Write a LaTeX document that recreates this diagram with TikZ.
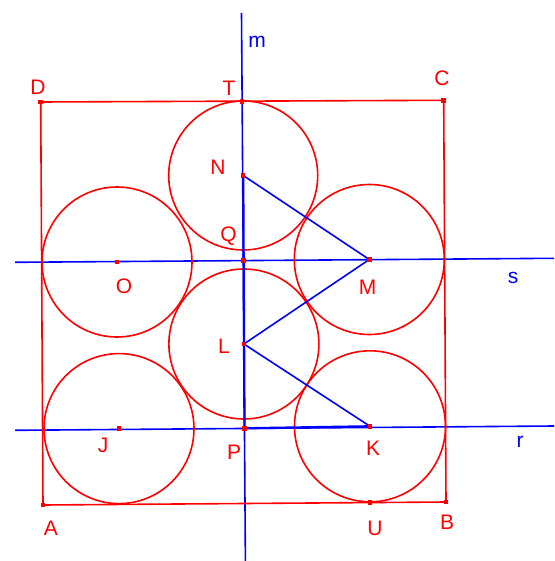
\documentclass[tikz,border=0pt]{standalone}
\usepackage{fontspec}
\setmainfont{Liberation Sans}
\usepackage{tikz}
\usepackage{xcolor}

\begin{document}
\begin{tikzpicture}[x=1pt,y=-1pt,line width=1.6pt,
  lbl/.style={font=\fontsize{21}{24}\selectfont,inner sep=0pt},
  pt/.style={fill=red,inner sep=0pt,minimum size=4.5pt}]
  \useasboundingbox (0,0) rectangle (554,561);
  \coordinate (A) at (43,505); \coordinate (B) at (446,502); \coordinate (C) at (443.7,100.3); \coordinate (D) at (40.7,102);
  \coordinate (T) at (241.8,101.3); \coordinate (U) at (370,502.5);
  \coordinate (N) at (243.2,175.5); \coordinate (Q) at (243.6,260.6); \coordinate (L) at (243.9,344); \coordinate (P) at (244.5,428.3);
  \coordinate (O) at (117,262); \coordinate (M) at (369.3,259.5); \coordinate (J) at (119,428.6); \coordinate (K) at (370,426.3);
  \coordinate (m1) at (241.5,13); \coordinate (m2) at (245.4,561);
  \coordinate (s1) at (15,262.3); \coordinate (s2) at (554,258.3);
  \coordinate (r1) at (15,430.3); \coordinate (r2) at (554,426);
  % lines m, s, r
  \draw[blue] (m1) -- (m2); \draw[blue] (s1) -- (s2); \draw[blue] (r1) -- (r2);
  % square and circles
  \draw[red] (A) -- (B) -- (C) -- (D) -- cycle;
  \draw[red] (N) circle (74.5); \draw[red] (O) circle (75); \draw[red] (M) circle (75);
  \draw[red] (L) circle (75); \draw[red] (J) circle (75); \draw[red] (K) circle (75.5);
  % segments
  \draw[blue] (N) -- (M) -- (L) -- (K); \draw[blue,line width=2.3pt] (N) -- (P) -- (K);
  % points
  \node[pt] (dA) at (A) {}; \node[pt] (dB) at (B) {}; \node[pt] (dC) at (C) {}; \node[pt] (dD) at (D) {};
  \node[pt] (dT) at (T) {}; \node[pt] (dU) at (U) {}; \node[pt] (dN) at (N) {}; \node[pt] (dQ) at (Q) {};
  \node[pt] (dL) at (L) {}; \node[pt] (dP) at (P) {}; \node[pt] (dO) at (O) {}; \node[pt] (dM) at (M) {};
  \node[pt] (dJ) at (J) {}; \node[pt] (dK) at (K) {};
  % labels
  \node[lbl,red] (lD) at (38,87) {D}; \node[lbl,red] (lT) at (229,88) {T}; \node[lbl,red] (lC) at (442,78) {C};
  \node[lbl,red] (lN) at (218,167) {N}; \node[lbl,red] (lQ) at (228.5,236) {Q}; \node[lbl,red] (lO) at (124,286) {O};
  \node[lbl,red] (lM) at (367.5,287) {M}; \node[lbl,red] (lL) at (224,346) {L}; \node[lbl,red] (lJ) at (103,445) {J};
  \node[lbl,red] (lP) at (234,452) {P}; \node[lbl,red] (lK) at (373,448) {K};
  \node[lbl,red] (lA) at (51,528) {A}; \node[lbl,red] (lU) at (375,528) {U}; \node[lbl,red] (lB) at (447,522) {B};
  \node[lbl,blue] (lm) at (257,42) {m}; \node[lbl,blue] (ls) at (513,278) {s}; \node[lbl,blue] (lr) at (520,442) {r};
\end{tikzpicture}
\end{document}
